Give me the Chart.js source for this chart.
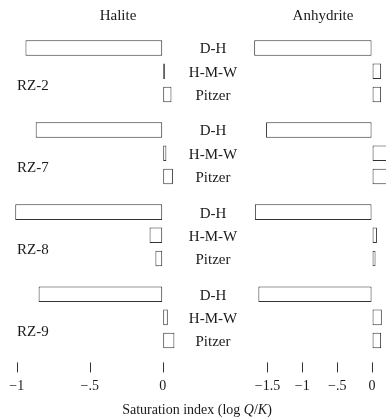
<!DOCTYPE html>
<html><head><meta charset="utf-8">
<script src="https://cdn.jsdelivr.net/npm/chart.js@4"></script>
<style>
html,body{margin:0;padding:0;background:#fff;}
#wrap{position:relative;width:386px;height:420px;overflow:hidden;font-family:"Liberation Serif","Times New Roman",serif;color:#1a1a1a;}
canvas{position:absolute;left:0;top:0;}
.t{position:absolute;font-size:15px;white-space:nowrap;transform:translate(-50%,-50%);}
</style></head>
<body>
<div id="wrap">
<canvas id="c1" width="386" height="420"></canvas>
<canvas id="c2" width="386" height="420"></canvas>
<div class="t" style="left:118px;top:15px;">Halite</div>
<div class="t" style="left:323px;top:15px;">Anhydrite</div>
<div class="t" style="left:197px;top:410px;font-size:14px;">Saturation index (log <i>Q</i>/<i>K</i>)</div>
</div>
<script>
const samples = ["RZ-2", "RZ-7", "RZ-8", "RZ-9"];
const methods = ["D-H", "H-M-W", "Pitzer"];
// Halite saturation index per method (order of samples)
const haliteDH     = [-0.94, -0.87, -1.01, -0.85];
const haliteHMW    = [0.015, 0.025, -0.09, 0.035];
const halitePitzer = [0.06, 0.07, -0.05, 0.08];
// Anhydrite saturation index
const anhyDH     = [-1.69, -1.52, -1.68, -1.63];
const anhyHMW    = [0.13, 0.3, 0.07, 0.14];
const anhyPitzer = [0.13, 0.3, 0.05, 0.13];
const haliteTicks = [-1, -0.5, 0];
const anhyTicks = [-1.5, -1, -0.5, 0];

const FONT = '"Liberation Serif","Times New Roman",serif';
const INK = '#1a1a1a';

function fmt(v){
  if (v === 0) return '0';
  let s = Math.abs(v).toString().replace(/^0\./, '.');
  return (v < 0 ? '\u2212' : '') + s;
}

const tickMarks = {
  id: 'tickMarks',
  afterDraw(chart, args, opts) {
    const ctx = chart.ctx, xs = chart.scales.x, ys = chart.scales.y;
    const b = chart.chartArea.bottom;
    ctx.save();
    ctx.strokeStyle = '#333';
    ctx.lineWidth = 1;
    opts.ticks.forEach(v => {
      const x = Math.round(xs.getPixelForValue(v)) + 0.5;
      ctx.beginPath(); ctx.moveTo(x, b + 4); ctx.lineTo(x, b + 14); ctx.stroke();
    });
    ctx.fillStyle = INK;
    ctx.font = '15px ' + FONT;
    ctx.textBaseline = 'middle';
    if (opts.labels) {
      samples.forEach((s, i) => {
        ctx.textAlign = 'left';
        ctx.fillText(s, 17, ys.getPixelForValue(i) + 14.5);
      });
      chart.data.datasets.forEach((ds, di) => {
        const meta = chart.getDatasetMeta(di);
        meta.data.forEach(bar => {
          ctx.textAlign = 'center';
          ctx.fillText(ds.label, 213, bar.y + 1.5);
        });
      });
    }
    ctx.restore();
  }
};

function makeChart(id, series, min, max, ticks, padL, padR, labels) {
  return new Chart(document.getElementById(id), {
    type: 'bar',
    data: {
      labels: samples,
      datasets: methods.map((m, i) => ({
        label: m,
        data: series[i],
        backgroundColor: '#fff',
        borderColor: '#333',
        borderWidth: 1,
        borderSkipped: false,
        barPercentage: 0.67,
        categoryPercentage: 0.849
      }))
    },
    options: {
      indexAxis: 'y',
      responsive: false,
      animation: false,
      devicePixelRatio: 1,
      layout: { padding: { left: padL, right: padR, top: 30.2, bottom: 0 } },
      plugins: { legend: { display: false }, tooltip: { enabled: false },
                 tickMarks: { ticks: ticks, labels: labels } },
      scales: {
        y: { display: false, offset: true },
        x: {
          type: 'linear', min: min, max: max,
          afterBuildTicks: s => { s.ticks = ticks.map(v => ({ value: v })); },
          afterFit: s => { s.height = 420 - 358.4; },
          grid: { display: true, drawOnChartArea: false, drawTicks: true, tickLength: 14, color: 'rgba(0,0,0,0)' },
          border: { display: false },
          ticks: { padding: 6, color: INK, font: { family: FONT, size: 14 }, maxRotation: 0, autoSkip: false,
                   callback: v => fmt(v) }
        }
      }
    },
    plugins: [tickMarks]
  });
}

makeChart('c1', [haliteDH, haliteHMW, halitePitzer], -1.05, 0.1, haliteTicks, 9.4, 208.7, true);
makeChart('c2', [anhyDH, anhyHMW, anhyPitzer], -1.75, 0.2, anhyTicks, 250, 0, false);
</script>
</body></html>
